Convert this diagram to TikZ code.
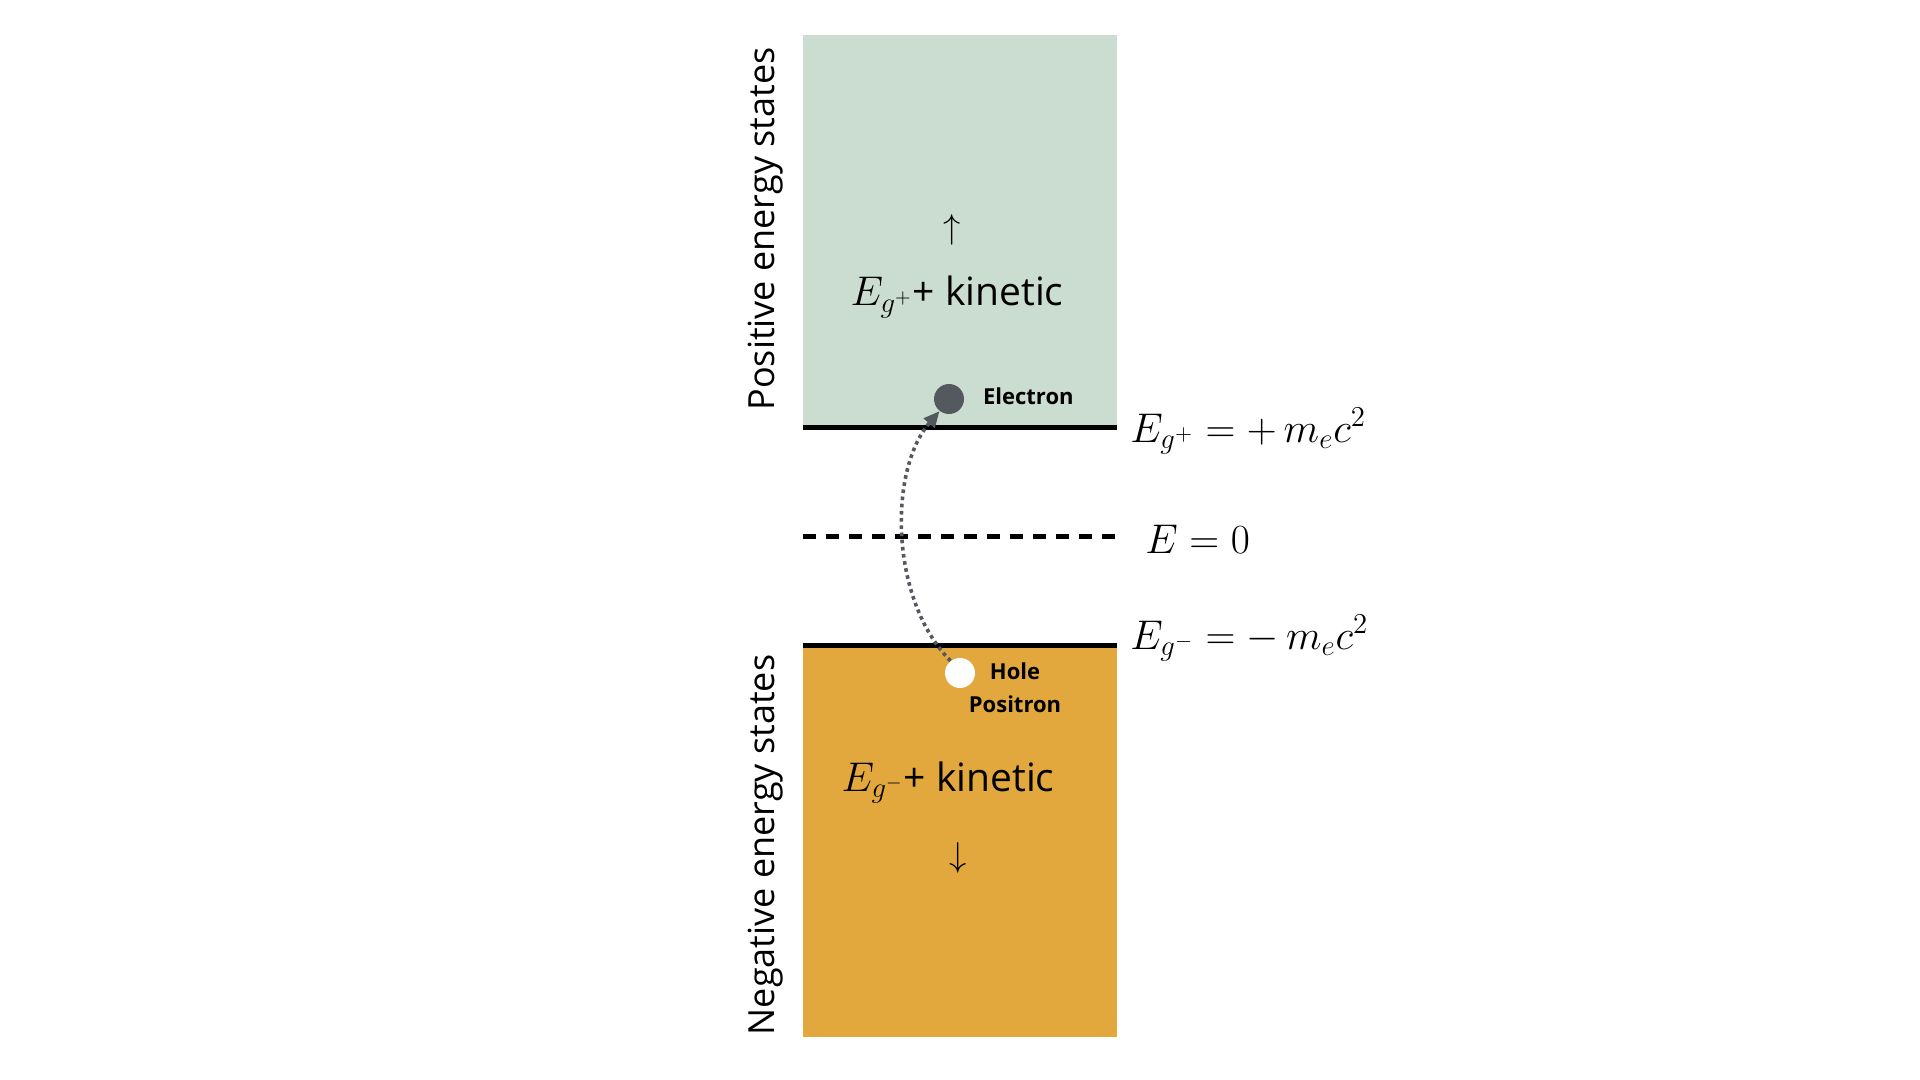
\documentclass[tikz,border=0pt]{standalone}
\usepackage{amsmath}
\usepackage{fontspec}
\setsansfont{Open Sans}
\usetikzlibrary{arrows.meta}
\definecolor{posband}{HTML}{CBDCD1}
\definecolor{negband}{HTML}{E2A83E}
\definecolor{particle}{HTML}{54585F}
\tikzset{
  level/.style={line width=2.5pt},
  sidelabel/.style={font=\sffamily\fontsize{18}{21}\selectfont, rotate=90},
  bandtext/.style={font=\sffamily\fontsize{19.5}{22}\selectfont, anchor=base},
  energylabel/.style={font=\fontsize{21.5}{24}\selectfont, anchor=base west, inner sep=0pt},
  tag/.style={font=\sffamily\bfseries\fontsize{11}{16.5}\selectfont, align=center},
  dot/.style={circle, minimum size=15pt, inner sep=0pt},
}

\begin{document}
\begin{tikzpicture}[x=0.5pt,y=-0.5pt]
\useasboundingbox (0,0) rectangle (1920,1080);

%Bands
\fill[posband] (803,35) rectangle (1117,427);
\fill[negband] (803,645) rectangle (1117,1037);

%Levels
\draw[level] (803,427) -- (1117,427);
\draw[level] (803,645) -- (1117,645);
\draw[level, dash pattern=on 6.5pt off 5pt] (803,536) -- (1117,536);

%Particles
\node[dot, fill=particle] (electron) at (949,399) {};
\node[dot, fill=white] (hole) at (960,673) {};

% Text Node
\node[tag, anchor=west] (electronlabel) at (976,396) {Electron};
% Text Node
\node[tag] (holelabel) at (1015,688) {Hole\\Positron};

% Text Node
\node[bandtext] (upkinetic) at (957,306) {$E_{g^{+}}$+ kinetic};
\node[font=\fontsize{19}{22}\selectfont] (uparrow) at (952,230) {$\uparrow$};
% Text Node
\node[bandtext] (downkinetic) at (948,791) {$E_{g^{-}}$+ kinetic};
\node[font=\fontsize{19}{22}\selectfont] (downarrow) at (958,858) {$\downarrow$};

% Text Node
\node[energylabel] (egplus) at (1130,442) {$E_{g^{+}}=+\,m_ec^2$};
\node[energylabel] (ezero) at (1145,553) {$E=0$};
\node[energylabel] (egminus) at (1130,649) {$E_{g^{-}}=-\,m_ec^2$};

% Text Node
\node[sidelabel] (poslabel) at (766,229) {Positive energy states};
\node[sidelabel] (neglabel) at (766,845) {Negative energy states};

%Transition
\draw[particle, line width=1.8pt, dash pattern=on 1.8pt off 1.8pt, -{Triangle[length=8pt,width=7pt]}]
  (hole.128) .. controls (890,600) and (888,471) .. (electron.232);

\end{tikzpicture}
\end{document}
